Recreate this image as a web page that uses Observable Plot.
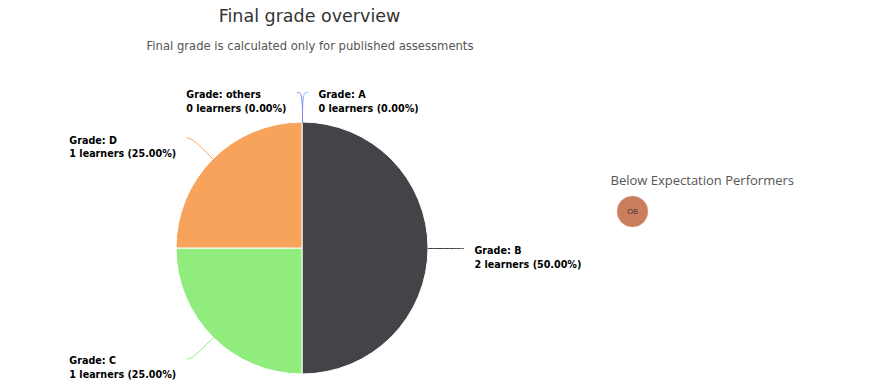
<!DOCTYPE html>
<html><head><meta charset="utf-8">
<script src="https://cdn.jsdelivr.net/npm/d3@7"></script>
<script src="https://cdn.jsdelivr.net/npm/@observablehq/plot@0.6"></script>
<style>body{margin:0;background:#fff} #chart{width:893px;height:392px}</style>
</head><body><div id="chart"></div>
<script>
// ---- data ----
const grades = ["A", "B", "C", "D", "others"];
const learners = [0, 2, 1, 1, 0];
const sliceColors = ["#7cb5ec", "#434348", "#90ed7d", "#f7a35c", "#8085e9"];
const performers = ["OB"];
const titleText = "Final grade overview";
const subtitleText = "Final grade is calculated only for published assessments";
const performersTitle = "Below Expectation Performers";

// ---- layout ----
const W = 893, H = 392;
const cx = 302, cy = 248, R = 126, labelDist = 30, connPad = 5, labelGap = 11;
const labelFontSize = 9.6, labelFamily = "DejaVu Sans";

const total = d3.sum(learners);
const data = grades.map((g, i) => ({grade: g, learners: learners[i], color: sliceColors[i]}));
const arcs = d3.pie().sort(null).value(d => d.learners)(data);

const ctx = document.createElement("canvas").getContext("2d");
ctx.font = `bold ${labelFontSize}px '${labelFamily}'`;

const labels = arcs.map(a => {
  const mid = (a.startAngle + a.endAngle) / 2;
  const side = mid < Math.PI ? 1 : -1;
  const sx = cx + R * Math.sin(mid), sy = cy - R * Math.cos(mid);
  const mx = cx + (R + labelDist) * Math.sin(mid), my = cy - (R + labelDist) * Math.cos(mid);
  const ex = mx + side * connPad, ey = my;
  const pct = total ? a.data.learners / total * 100 : 0;
  const lines = [`Grade: ${a.data.grade}`, `${a.data.learners} learners (${pct.toFixed(2)}%)`];
  const wmax = d3.max(lines, l => ctx.measureText(l).width);
  const tx = side > 0 ? ex + labelGap : ex - labelGap - wmax;
  return {grade: a.data.grade, color: a.data.color, side, sx, sy, mx, my, ex, ey, tx, ty: ey - 4.5, text: lines.join("\n")};
});
const connectorPts = labels.flatMap(l => [
  {grade: l.grade, color: l.color, x: l.sx, y: l.sy},
  {grade: l.grade, color: l.color, x: l.mx, y: l.my},
  {grade: l.grade, color: l.color, x: l.ex, y: l.ey}
]);

function pieMark(index, scales) {
  const x = scales.x || (v => v), y = scales.y || (v => v);
  const g = d3.create("svg:g");
  const arcGen = d3.arc().innerRadius(0).outerRadius(x(cx + R) - x(cx));
  g.selectAll("path")
    .data(arcs.filter(a => a.endAngle > a.startAngle))
    .join("path")
    .attr("transform", `translate(${x(cx)},${y(cy)})`)
    .attr("d", arcGen)
    .attr("fill", d => d.data.color)
    .attr("stroke", "#fff")
    .attr("stroke-width", 1)
    .attr("stroke-linejoin", "round");
  return g.node();
}

const chart = Plot.plot({
  width: W, height: H, margin: 0,
  x: {domain: [0, W], range: [0, W], axis: null},
  y: {domain: [0, H], range: [0, H], axis: null},
  style: {background: "#fff", fontFamily: "DejaVu Sans", overflow: "visible"},
  marks: [
    pieMark,
    Plot.line(connectorPts, {x: "x", y: "y", z: "grade", stroke: "color", strokeWidth: 1, curve: "basis"}),
    Plot.text(labels, {x: "tx", y: "ty", text: "text", textAnchor: "start", lineAnchor: "top",
      lineHeight: 1.45, fontSize: labelFontSize, fontWeight: "bold", fontFamily: labelFamily, fill: "#000"}),
    Plot.text([titleText], {x: () => 309, y: () => 9.5, text: d => d, textAnchor: "middle", lineAnchor: "top",
      fontSize: 17.5, fontFamily: "DejaVu Sans", fill: "#333"}),
    Plot.text([subtitleText], {x: () => 309.5, y: () => 41.5, text: d => d, textAnchor: "middle", lineAnchor: "top",
      fontSize: 11.6, fontFamily: "DejaVu Sans", fill: "#555"}),
    Plot.text([performersTitle], {x: () => 610, y: () => 175.5, text: d => d, textAnchor: "start", lineAnchor: "top",
      fontSize: 13, fontFamily: "Open Sans", fill: "#555"}),
    Plot.dot(performers, {x: (d, i) => 632 + i * 36, y: () => 211, r: 15.5, fill: "#c97d5b", stroke: "#e6b9a5", strokeWidth: 0.5}),
    Plot.text(performers, {x: (d, i) => 632 + i * 36, y: () => 211, text: d => d, textAnchor: "middle",
      fontSize: 7.5, fontFamily: "Open Sans", fill: "#333"})
  ]
});
document.getElementById("chart").appendChild(chart);
</script>
</body></html>
